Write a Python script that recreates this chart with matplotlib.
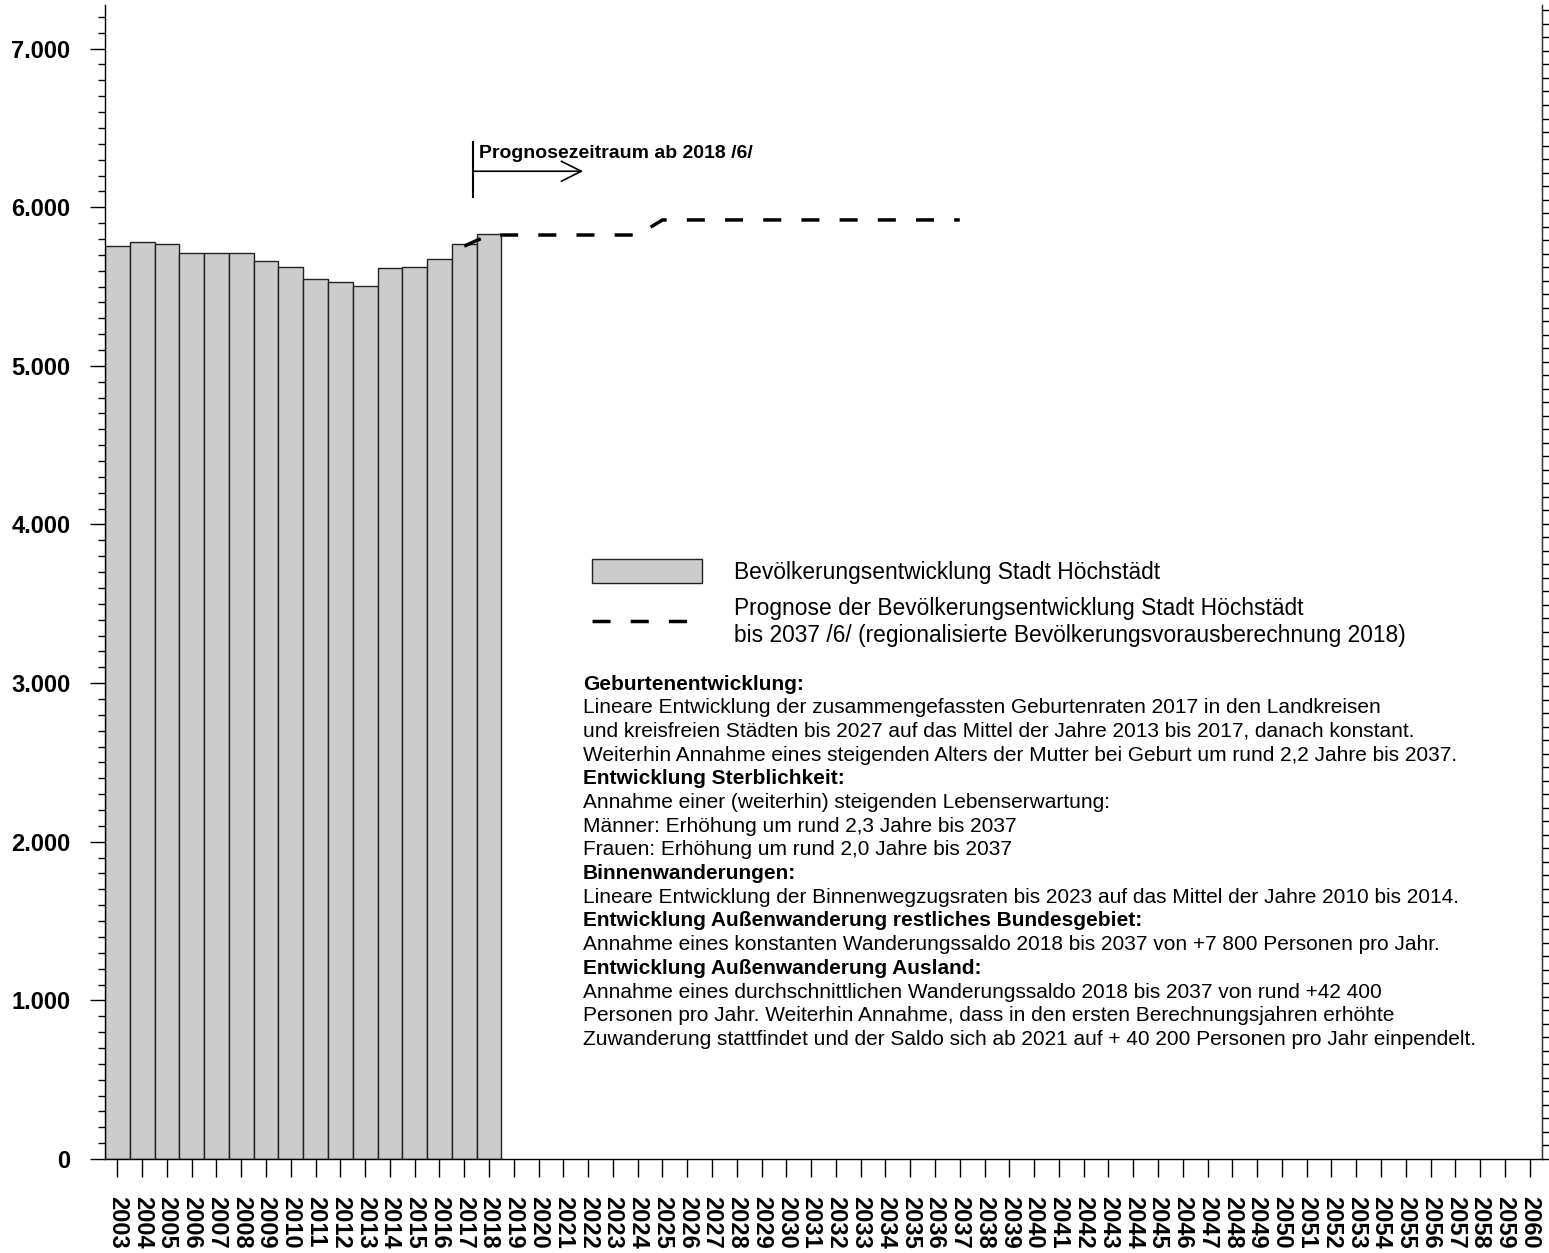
import numpy as np
import matplotlib
matplotlib.use('Agg')
import matplotlib.pyplot as plt
from matplotlib.ticker import FixedLocator, MultipleLocator, FuncFormatter

plt.rcParams['font.family'] = ['Liberation Sans', 'DejaVu Sans']

# data
years_hist = [2003, 2004, 2005, 2006, 2007, 2008, 2009, 2010,
              2011, 2012, 2013, 2014, 2015, 2016, 2017, 2018]
pop_hist = [5753, 5779, 5766, 5709, 5712, 5712, 5661, 5623,
            5548, 5529, 5504, 5617, 5623, 5671, 5766, 5833]

years_prog = [2017, 2018, 2019, 2020, 2021, 2022, 2023, 2024, 2025, 2026, 2027,
              2028, 2029, 2030, 2031, 2032, 2033, 2034, 2035, 2036, 2037]
pop_prog = [5755, 5825, 5825, 5825, 5825, 5825, 5825, 5825, 5920, 5920, 5920,
            5920, 5920, 5920, 5920, 5920, 5920, 5920, 5920, 5920, 5920]

year_ticks = list(range(2003, 2061))

label_hist = 'Bevölkerungsentwicklung Stadt Höchstädt'
label_prog = ('Prognose der Bevölkerungsentwicklung Stadt Höchstädt\n'
              'bis 2037 /6/ (regionalisierte Bevölkerungsvorausberechnung 2018)')
arrow_text = 'Prognosezeitraum ab 2018 /6/'

notes = [
    ('Geburtenentwicklung:', True),
    ('Lineare Entwicklung der zusammengefassten Geburtenraten 2017 in den Landkreisen', False),
    ('und kreisfreien Städten bis 2027 auf das Mittel der Jahre 2013 bis 2017, danach konstant.', False),
    ('Weiterhin Annahme eines steigenden Alters der Mutter bei Geburt um rund 2,2 Jahre bis 2037.', False),
    ('Entwicklung Sterblichkeit:', True),
    ('Annahme einer (weiterhin) steigenden Lebenserwartung:', False),
    ('Männer: Erhöhung um rund 2,3 Jahre bis 2037', False),
    ('Frauen: Erhöhung um rund 2,0 Jahre bis 2037', False),
    ('Binnenwanderungen:', True),
    ('Lineare Entwicklung der Binnenwegzugsraten bis 2023 auf das Mittel der Jahre 2010 bis 2014.', False),
    ('Entwicklung Außenwanderung restliches Bundesgebiet:', True),
    ('Annahme eines konstanten Wanderungssaldo 2018 bis 2037 von +7 800 Personen pro Jahr.', False),
    ('Entwicklung Außenwanderung Ausland:', True),
    ('Annahme eines durchschnittlichen Wanderungssaldo 2018 bis 2037 von rund +42 400', False),
    ('Personen pro Jahr. Weiterhin Annahme, dass in den ersten Berechnungsjahren erhöhte', False),
    ('Zuwanderung stattfindet und der Saldo sich ab 2021 auf + 40 200 Personen pro Jahr einpendelt.', False),
]

W, H = 1549, 1253
fig = plt.figure(figsize=(W / 100, H / 100), dpi=100)
ax = fig.add_axes([105 / W, 1 - 1159 / H, (1542 - 105) / W, (1159 - 5) / H])

bars = ax.bar(years_hist, pop_hist, width=1.0, color='#cccccc',
              edgecolor='#222222', linewidth=1.0, label=label_hist, zorder=2)
line, = ax.plot(years_prog, pop_prog, color='black', lw=2.5,
                dashes=(5.2, 5.8), label=label_prog, zorder=3)

ax.set_xlim(2002.5, 2060.5)
ax.set_ylim(0, 7275)

# y axis
ax.yaxis.set_major_locator(MultipleLocator(1000))
ax.yaxis.set_minor_locator(MultipleLocator(100))
ax.yaxis.set_major_formatter(FuncFormatter(lambda v, p: f'{int(v):,}'.replace(',', '.')))
ax.tick_params(axis='y', which='major', length=11, width=1, pad=14,
               labelsize=17)
ax.tick_params(axis='y', which='minor', length=5, width=1)
for t in ax.get_yticklabels():
    t.set_fontweight('bold')

# x axis
ax.xaxis.set_major_locator(FixedLocator(year_ticks))
ax.set_xticklabels([str(y) for y in year_ticks], rotation=270,
                   fontsize=17, fontweight='bold', va='top', ha='center')
ax.tick_params(axis='x', which='major', length=13, width=1, pad=14)

ax.spines['top'].set_visible(False)
for s in ['left', 'right', 'bottom']:
    ax.spines[s].set_linewidth(1.0)
    ax.spines[s].set_color('#333333')

# right axis: unlabeled tick scale
ax2 = ax.twinx()
ax2.set_ylim(0, 85.4)
ax2.yaxis.set_major_locator(MultipleLocator(1))
ax2.tick_params(axis='y', length=5, width=1, labelright=False)
ax2.spines['top'].set_visible(False)
ax2.spines['right'].set_color('#333333')

# forecast arrow
ax.plot([2017.35, 2017.35], [6067, 6414], color='black', lw=1.5)
ax.annotate('', xy=(2021.8, 6227), xytext=(2017.35, 6227),
            arrowprops=dict(arrowstyle='->, head_length=0.72, head_width=0.36',
                            lw=1.2, color='black', mutation_scale=20,
                            shrinkA=0, shrinkB=0))
fig.text(479 / W, 1 - 153 / H, arrow_text, fontsize=14, fontweight='bold',
         va='center', ha='left')

# legend
ax.legend(handles=[bars, line], loc='upper left',
          bbox_to_anchor=(571 / W, 1 - 538 / H), bbox_transform=fig.transFigure,
          frameon=False, fontsize=16.4, handlelength=4.87, handleheight=1.3,
          handletextpad=1.4, labelspacing=0.6)

# notes block
y0 = 684
for i, (txt, bold) in enumerate(notes):
    fig.text(583 / W, 1 - (y0 + i * 23.7) / H, txt, fontsize=15,
             fontweight='bold' if bold else 'normal', va='center', ha='left')

fig.savefig('out.png', dpi=100)
